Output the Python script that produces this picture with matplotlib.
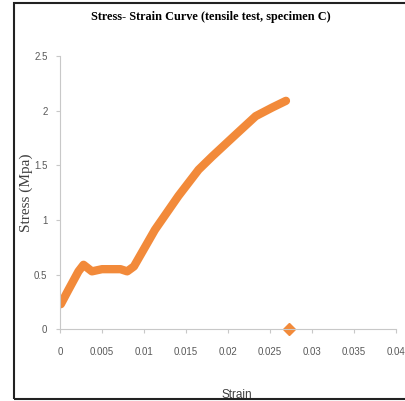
import matplotlib
matplotlib.use("Agg")
import matplotlib.pyplot as plt
from matplotlib.patches import Rectangle

strain = [0.0001, 0.0010, 0.0022, 0.0028, 0.0038, 0.0050, 0.0062, 0.0072, 0.0080,
          0.0088, 0.0113, 0.0141, 0.0165, 0.0181, 0.0209, 0.0233, 0.0253, 0.0269]
stress = [0.23, 0.36, 0.53, 0.59, 0.53, 0.55, 0.55, 0.55, 0.53,
          0.575, 0.91, 1.22, 1.46, 1.58, 1.78, 1.95, 2.03, 2.09]
marker_strain = [0.0273]
marker_stress = [0.0]

xticks = [0, 0.005, 0.01, 0.015, 0.02, 0.025, 0.03, 0.035, 0.04]
xticklabels = ["0", "0.005", "0.01", "0.015", "0.02", "0.025", "0.03", "0.035", "0.04"]
yticks = [0, 0.5, 1, 1.5, 2, 2.5]
yticklabels = ["0", "0.5", "1", "1.5", "2", "2.5"]

orange = "#F28A3A"
fig = plt.figure(figsize=(4.06, 4.01), dpi=100)
fig.patch.set_facecolor("white")
fig.patches.append(Rectangle((14.5/406, 2.5/401), 1.2, (398.5-2.5)/401, transform=fig.transFigure,
                             fill=False, edgecolor="#222222", lw=1.5))

ax = fig.add_axes([60/406, (401-329.3)/401, 336/406, (329.3-56)/401])
ax.plot(strain, stress, color=orange, lw=6, solid_capstyle="round", solid_joinstyle="round")
ax.plot(marker_strain, marker_stress, marker="D", color=orange, ms=6, ls="none", clip_on=False)
ax.set_xlim(0, 0.04)
ax.set_ylim(0, 2.5)
for s in ["top", "right"]:
    ax.spines[s].set_visible(False)
for s in ["left", "bottom"]:
    ax.spines[s].set_color("#c8c8c8")
    ax.spines[s].set_linewidth(0.8)
tickfont = {"family": "Liberation Sans", "size": 7}
ax.set_xticks(xticks)
ax.set_xticklabels(xticklabels, fontdict=tickfont, color="#595959")
ax.set_yticks(yticks)
ax.set_yticklabels(yticklabels, fontdict=tickfont, color="#595959")
ax.tick_params(axis="both", colors="#c8c8c8", length=3, width=0.8, labelcolor="#595959")
ax.tick_params(axis="x", pad=10)
ax.tick_params(axis="y", pad=6)

fig.text(211/406, 1 - 17/401, "Stress- Strain Curve (tensile test, specimen C)",
         ha="center", va="center", family="Liberation Serif", weight="bold", size=8.8)
fig.text(26/406, 1 - 193/401, "Stress (Mpa)", rotation=90, ha="center", va="center",
         family="Liberation Serif", size=11, color="#404040")
fig.text(237/406, 1 - 395/401, "Strain", ha="center", va="center",
         family="Liberation Sans", size=8.5, color="#404040")

fig.savefig("out.png", dpi=100)
